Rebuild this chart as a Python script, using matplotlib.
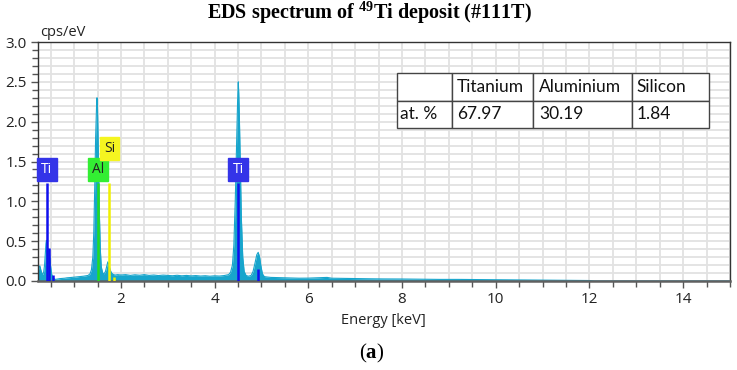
import matplotlib
matplotlib.use("Agg")
import matplotlib.pyplot as plt
from matplotlib.ticker import MultipleLocator, FormatStrFormatter

plt.rcParams['mathtext.fontset'] = 'custom'
plt.rcParams['mathtext.rm'] = 'Liberation Serif'
plt.rcParams['mathtext.bf'] = 'Liberation Serif:bold'

# ---------------- data ----------------
energy = [0.23, 0.25, 0.27, 0.29, 0.31, 0.33, 0.35, 0.37, 0.39, 0.40, 0.41, 0.42, 0.43,
          0.45, 0.47, 0.48, 0.50, 0.52, 0.54, 0.57, 0.60, 0.65, 0.70, 0.75, 0.80, 0.85,
          0.90, 0.95, 1.00, 1.05, 1.10, 1.15, 1.20, 1.25, 1.30, 1.34, 1.37, 1.40, 1.42,
          1.44, 1.46, 1.48, 1.49, 1.50, 1.52, 1.54, 1.56, 1.58, 1.61, 1.64, 1.67, 1.70,
          1.72, 1.74, 1.77, 1.80, 1.84, 1.88, 1.93, 2.0, 2.1, 2.2, 2.3, 2.4, 2.5, 2.6,
          2.7, 2.8, 2.9, 3.0, 3.1, 3.2, 3.3, 3.4, 3.5, 3.6, 3.7, 3.8, 3.9, 4.0, 4.1, 4.2,
          4.3, 4.34, 4.38, 4.41, 4.44, 4.47, 4.49, 4.505, 4.515, 4.53, 4.55, 4.57, 4.60,
          4.63, 4.67, 4.72, 4.78, 4.82, 4.86, 4.90, 4.93, 4.96, 4.99, 5.02, 5.06, 5.12,
          5.2, 5.4, 5.6, 5.8, 6.0, 6.2, 6.4, 6.5, 6.8, 7.0, 7.3, 7.6, 8.0, 8.4, 8.8, 9.2,
          9.6, 10.0, 10.4, 10.8, 11.2, 11.6, 12.0, 12.1, 15.0]
cps = [0.10, 0.17, 0.19, 0.14, 0.10, 0.08, 0.11, 0.20, 0.38, 0.47, 0.51, 0.46, 0.42,
       0.40, 0.38, 0.30, 0.18, 0.09, 0.05, 0.03, 0.02, 0.025, 0.03, 0.032, 0.035, 0.04,
       0.042, 0.045, 0.048, 0.05, 0.055, 0.058, 0.06, 0.065, 0.07, 0.09, 0.14, 0.30, 0.60,
       1.15, 1.80, 2.20, 2.30, 2.15, 1.55, 0.85, 0.40, 0.18, 0.10, 0.09, 0.12, 0.19,
       0.24, 0.21, 0.14, 0.10, 0.08, 0.075, 0.08, 0.075, 0.08, 0.07, 0.078, 0.072, 0.08, 0.07,
       0.075, 0.068, 0.074, 0.07, 0.066, 0.072, 0.065, 0.07, 0.064, 0.068, 0.062, 0.066, 0.06, 0.065, 0.062, 0.068,
       0.08, 0.11, 0.20, 0.45, 1.00, 1.75, 2.25, 2.50, 2.35, 2.00, 1.40, 0.80, 0.30,
       0.12, 0.07, 0.06, 0.07, 0.12, 0.22, 0.33, 0.36, 0.30, 0.18, 0.09, 0.055, 0.05,
       0.045, 0.042, 0.038, 0.035, 0.036, 0.04, 0.045, 0.035, 0.032, 0.03, 0.028, 0.026, 0.025, 0.022, 0.02, 0.02,
       0.018, 0.016, 0.015, 0.012, 0.01, 0.008, 0.006, 0.0, 0.0]

# element marker lines (energy keV, height cps/eV, colour)
marker_energy = [0.42, 0.46, 0.55, 1.51, 1.755, 1.85, 4.505, 4.93]
marker_height = [1.235, 0.41, 0.08, 1.235, 1.235, 0.05, 1.235, 0.15]
marker_color = ['#1010ee', '#1010ee', '#1010ee', '#22dd22', '#f0f000', '#f0f000', '#1010ee', '#1010ee']

label_text = ['Ti', 'Al', 'Si', 'Ti']
label_energy = [0.42, 1.51, 1.755, 4.505]
label_height = [1.40, 1.40, 1.665, 1.40]
label_face = ['#3434e8', '#33ee33', '#f5f520', '#3434e8']
label_fg = ['white', '#222222', '#222222', 'white']

table_cols = ['', 'Titanium', 'Aluminium', 'Silicon']
table_row = ['at. %', '67.97', '30.19', '1.84']

# ---------------- figure ----------------
W, H = 737, 370
fig = plt.figure(figsize=(W / 100, H / 100), dpi=100)
ax = fig.add_axes([38 / W, 1 - 281 / H, (730 - 38) / W, (281 - 42) / H])

ax.set_xlim(0.23, 15.0)
ax.set_ylim(0, 3.0)

ax.xaxis.set_major_locator(MultipleLocator(2))
ax.xaxis.set_minor_locator(MultipleLocator(0.5))
ax.yaxis.set_major_locator(MultipleLocator(0.5))
ax.yaxis.set_minor_locator(MultipleLocator(0.1))
ax.yaxis.set_major_formatter(FormatStrFormatter('%.1f'))

ax.grid(True, which='both', color='#e2e2e2', linewidth=1.3, zorder=0)
ax.set_axisbelow(True)

ax.tick_params(which='both', direction='out', color='#555555', length=5, width=1)
ax.tick_params(which='minor', length=4)
ax.tick_params(axis='both', labelsize=11, labelcolor='#222222', pad=3)
for lab in ax.get_xticklabels() + ax.get_yticklabels():
    lab.set_fontfamily('Open Sans')

for s in ax.spines.values():
    s.set_color('#333333')
    s.set_linewidth(1.0)
ax.spines['bottom'].set_color('#606060')
ax.spines['bottom'].set_linewidth(1.8)

spec_color = '#17a5cc'
ax.fill_between(energy, 0, cps, color=spec_color, linewidth=0, zorder=2)
ax.plot(energy, cps, color=spec_color, linewidth=0.8, zorder=2)

ax.vlines(marker_energy, 0, marker_height, colors=marker_color, linewidth=1.8, zorder=3)

for t, e, h, fc, tc in zip(label_text, label_energy, label_height, label_face, label_fg):
    ax.text(e, h, t, ha='center', va='center', fontsize=10, color=tc, family='Open Sans',
            zorder=4,
            bbox=dict(boxstyle='square,pad=0.3', facecolor=fc, edgecolor=fc))

# table
tb = ax.table(cellText=[table_cols, table_row], cellLoc='left',
              colWidths=[55, 81, 99, 77],
              bbox=[(397 - 38) / 692, (281 - 128) / 239, (709 - 397) / 692, (128 - 73) / 239],
              zorder=5)
tb.auto_set_font_size(False)
for (r, c), cell in tb.get_celld().items():
    cell.set_edgecolor('#444444')
    cell.set_linewidth(1.0)
    cell.set_facecolor('white')
    cell.PAD = 0.06
    cell.get_text().set_fontsize(12.5)
    cell.get_text().set_fontfamily('Lato')
    cell.get_text().set_color('#111111')

# texts
fig.text(40 / W, 1 - 32 / H, 'cps/eV', fontsize=10.5, family='Open Sans', color='#222222',
         ha='left', va='center')
fig.text(383 / W, 1 - 320 / H, 'Energy [keV]', fontsize=10.5, family='Open Sans', color='#222222',
         ha='center', va='center')
fig.text(370 / W, 1 - 13 / H, r'EDS spectrum of $^{\mathbf{49}}$Ti deposit (#111T)',
         fontsize=14.5, family='Liberation Serif', weight='bold', ha='center', va='center')
fig.text(372 / W, 1 - 353 / H, r'($\mathbf{a}$)', fontsize=15, family='Liberation Serif',
         ha='center', va='center')

fig.savefig('out.png', dpi=100)
